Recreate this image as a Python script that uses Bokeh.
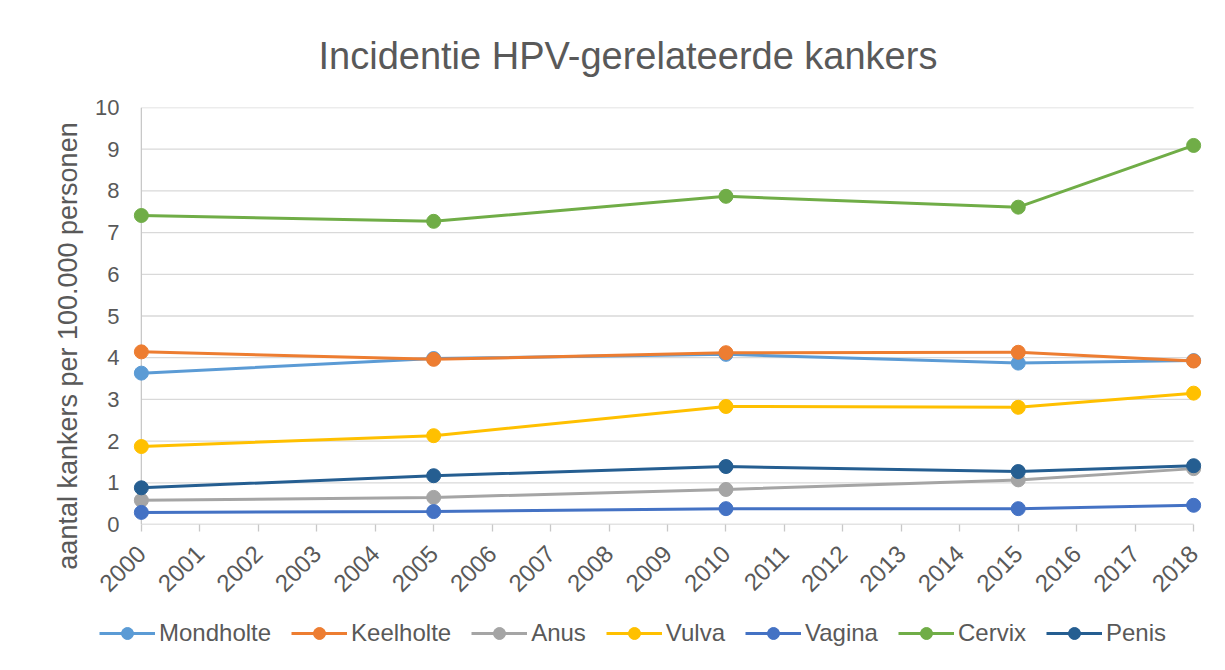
from bokeh.plotting import figure
from bokeh.models import (Range1d, FixedTicker, Legend, LegendItem, Title, CustomJS)
from bokeh.embed import file_html
from bokeh.resources import INLINE
import math

years = [2000, 2005, 2010, 2015, 2018]
mondholte = [3.63, 3.98, 4.08, 3.87, 3.93]
keelholte = [4.14, 3.96, 4.12, 4.13, 3.92]
anus = [0.58, 0.65, 0.84, 1.07, 1.34]
vulva = [1.87, 2.13, 2.83, 2.81, 3.15]
vagina = [0.29, 0.31, 0.38, 0.38, 0.46]
cervix = [7.41, 7.27, 7.87, 7.61, 9.09]
penis = [0.88, 1.17, 1.39, 1.27, 1.41]

series_names = ["Mondholte", "Keelholte", "Anus", "Vulva", "Vagina", "Cervix", "Penis"]
series_values = [mondholte, keelholte, anus, vulva, vagina, cervix, penis]
series_colors = ["#5B9BD5", "#ED7D31", "#A5A5A5", "#FFC000", "#4472C4", "#70AD47", "#255E91"]

x_ticks = list(range(2000, 2019))
y_ticks = list(range(0, 11))

title_text = "Incidentie HPV-gerelateerde kankers"
y_label = "aantal kankers per 100.000 personen"

FONT = "Liberation Sans"
TXT = "#595959"
GRID = "#d9d9d9"

p = figure(output_backend="svg", toolbar_location=None,
           frame_width=1078, frame_height=417,
           x_range=Range1d(1999.78, 2018.22), y_range=Range1d(0, 10),
           min_border_left=128, min_border_right=12,
           min_border_top=107, min_border_bottom=140,
           title=None)
p.outline_line_color = None
p.background_fill_color = "white"
p.border_fill_color = "white"
p.xgrid.visible = False
p.ygrid.visible = False

# gridlines and axis lines (bounded to the data span, like the original)
p.segment(x0=[x_ticks[0]] * (len(y_ticks) - 1), x1=[x_ticks[-1]] * (len(y_ticks) - 1),
          y0=y_ticks[1:], y1=y_ticks[1:], line_color=GRID, line_width=1.3)
p.segment(x0=[x_ticks[0]], x1=[x_ticks[-1]], y0=[0], y1=[0], line_color="#c8c8c8", line_width=1.3)
p.segment(x0=[x_ticks[0]], x1=[x_ticks[0]], y0=[0], y1=[10], line_color="#c8c8c8", line_width=1.3)

items = []
for name, vals, col in zip(series_names, series_values, series_colors):
    l = p.line(years, vals, line_color=col, line_width=3)
    s = p.scatter(years, vals, size=14, fill_color=col, line_color=col, marker="circle")
    items.append(LegendItem(label=name, renderers=[l, s]))

xa = p.xaxis[0]
xa.ticker = FixedTicker(ticks=x_ticks, minor_ticks=[])
xa.major_label_orientation = math.pi / 4
xa.axis_line_color = None
xa.major_tick_line_color = "#c8c8c8"
xa.major_tick_line_width = 1.3
xa.major_tick_out = 7
xa.major_tick_in = 0
xa.minor_tick_line_color = None
xa.major_label_text_font = FONT
xa.major_label_text_font_size = "24px"
xa.major_label_text_color = TXT
xa.major_label_standoff = 18

ya = p.yaxis[0]
ya.ticker = FixedTicker(ticks=y_ticks, minor_ticks=[])
ya.axis_line_color = None
ya.major_tick_line_color = None
ya.minor_tick_line_color = None
ya.major_label_text_font = FONT
ya.major_label_text_font_size = "22px"
ya.major_label_text_color = TXT
ya.major_label_standoff = 3
ya.axis_label = y_label + "\u00a0" * 8
ya.axis_label_text_font = FONT
ya.axis_label_text_font_size = "27px"
ya.axis_label_text_font_style = "normal"
ya.axis_label_text_color = TXT
ya.axis_label_standoff = 9

t = Title(text=title_text, text_font=FONT, text_font_size="38px",
          text_font_style="normal", text_color=TXT, align="left", offset=190,
          standoff=62)
p.add_layout(t, "above")

legend = Legend(items=items, orientation="horizontal", location=(-29, 0),
                glyph_width=56, glyph_height=30, label_height=30,
                label_standoff=4, spacing=20, padding=0, margin=0,
                label_text_font=FONT, label_text_font_size="24px",
                label_text_color=TXT, border_line_color=None,
                background_fill_alpha=0)
p.add_layout(legend, "below")

# one re-layout after the first render so the side-panel legend settles in place
relayout = CustomJS(args=dict(t=t, txt=title_text), code="""
setTimeout(() => { t.text = txt + '\\u00a0'; }, 300);
""")
p.js_on_change('outer_height', relayout)

open("out.html", "w").write(file_html(p, INLINE))
